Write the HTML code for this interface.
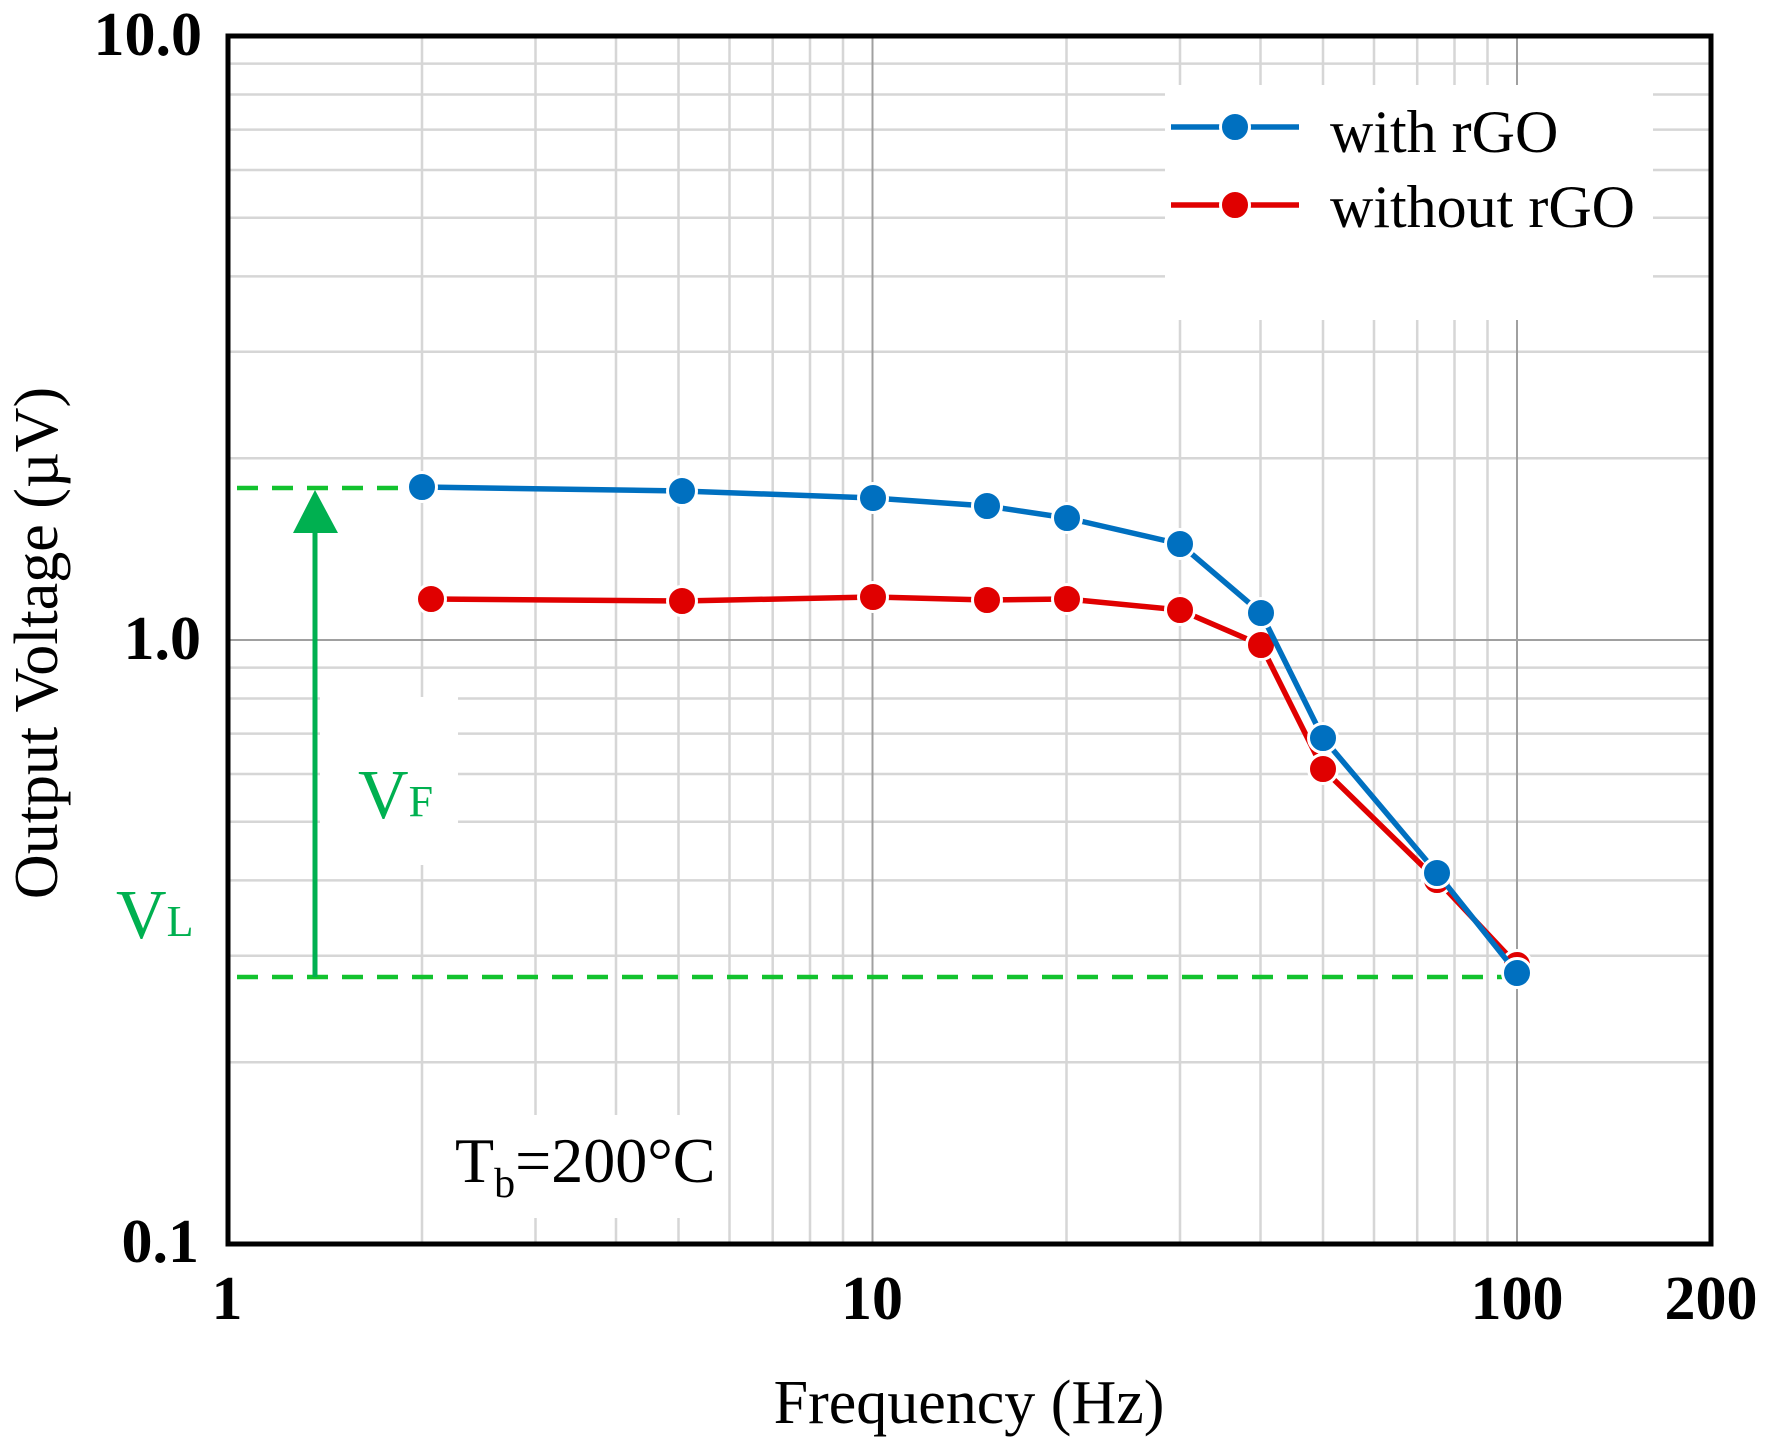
<!DOCTYPE html>
<html><head><meta charset="utf-8"><style>
html,body{margin:0;padding:0;background:#fff;}
svg{display:block;}
text{font-family:"Liberation Serif","Times New Roman",serif;fill:#000;}
</style></head><body>
<svg width="1771" height="1450" viewBox="0 0 1771 1450" xmlns="http://www.w3.org/2000/svg">
<rect width="1771" height="1450" fill="#fff"/>
<!-- minor vertical gridlines -->
<g stroke="#d6d6d6" stroke-width="2.5">
<line x1="422" y1="36" x2="422" y2="1244"/>
<line x1="535.5" y1="36" x2="535.5" y2="1244"/>
<line x1="616" y1="36" x2="616" y2="1244"/>
<line x1="678.5" y1="36" x2="678.5" y2="1244"/>
<line x1="729.5" y1="36" x2="729.5" y2="1244"/>
<line x1="772.7" y1="36" x2="772.7" y2="1244"/>
<line x1="810" y1="36" x2="810" y2="1244"/>
<line x1="843" y1="36" x2="843" y2="1244"/>
<line x1="1066.5" y1="36" x2="1066.5" y2="1244"/>
<line x1="1180" y1="36" x2="1180" y2="1244"/>
<line x1="1260.5" y1="36" x2="1260.5" y2="1244"/>
<line x1="1323" y1="36" x2="1323" y2="1244"/>
<line x1="1374" y1="36" x2="1374" y2="1244"/>
<line x1="1417.2" y1="36" x2="1417.2" y2="1244"/>
<line x1="1454.5" y1="36" x2="1454.5" y2="1244"/>
<line x1="1487.5" y1="36" x2="1487.5" y2="1244"/>
</g>
<!-- minor horizontal gridlines -->
<g stroke="#d6d6d6" stroke-width="2.5">
<line x1="228" y1="1062.2" x2="1711" y2="1062.2"/>
<line x1="228" y1="955.8" x2="1711" y2="955.8"/>
<line x1="228" y1="880.4" x2="1711" y2="880.4"/>
<line x1="228" y1="821.8" x2="1711" y2="821.8"/>
<line x1="228" y1="774" x2="1711" y2="774"/>
<line x1="228" y1="733.6" x2="1711" y2="733.6"/>
<line x1="228" y1="698.5" x2="1711" y2="698.5"/>
<line x1="228" y1="667.6" x2="1711" y2="667.6"/>
<line x1="228" y1="458.2" x2="1711" y2="458.2"/>
<line x1="228" y1="351.8" x2="1711" y2="351.8"/>
<line x1="228" y1="276.4" x2="1711" y2="276.4"/>
<line x1="228" y1="217.8" x2="1711" y2="217.8"/>
<line x1="228" y1="170" x2="1711" y2="170"/>
<line x1="228" y1="129.6" x2="1711" y2="129.6"/>
<line x1="228" y1="94.5" x2="1711" y2="94.5"/>
<line x1="228" y1="63.6" x2="1711" y2="63.6"/>
</g>
<!-- major gridlines -->
<g stroke="#a0a0a0" stroke-width="2">
<line x1="872.5" y1="36" x2="872.5" y2="1244"/>
<line x1="1517" y1="36" x2="1517" y2="1244"/>
<line x1="228" y1="640" x2="1711" y2="640"/>
</g>
<!-- white label boxes -->
<rect x="1165" y="85" width="488" height="235" fill="#fff"/>
<rect x="320" y="697" width="138" height="168" fill="#fff"/>
<rect x="430" y="1115" width="290" height="103" fill="#fff"/>
<!-- plot border -->
<rect x="228" y="36" width="1483" height="1208" fill="none" stroke="#000" stroke-width="5"/>
<!-- green dashed reference lines -->
<g stroke="#12c22e" stroke-width="4.5" stroke-dasharray="21 14" fill="none">
<line x1="237" y1="488" x2="408" y2="488"/>
<line x1="237" y1="977" x2="1503" y2="977"/>
</g>
<!-- arrow -->
<line x1="315" y1="977" x2="315" y2="528" stroke="#00b050" stroke-width="5"/>
<polygon points="315,490 293,533 338,533" fill="#00b050"/>
<!-- red series -->
<polyline fill="none" stroke="#e00000" stroke-width="5.5" stroke-linejoin="round" points="431,599 682,601 873,597 987,600 1067,599 1180,610 1261,645 1323,769 1437,880 1517,965"/>
<g fill="#e00000" stroke="#fff" stroke-width="3">
<circle cx="431" cy="599" r="14.5"/><circle cx="682" cy="601" r="14.5"/><circle cx="873" cy="597" r="14.5"/>
<circle cx="987" cy="600" r="14.5"/><circle cx="1067" cy="599" r="14.5"/><circle cx="1180" cy="610" r="14.5"/>
<circle cx="1261" cy="645" r="14.5"/><circle cx="1323" cy="769" r="14.5"/><circle cx="1437" cy="880" r="14.5"/>
<circle cx="1517" cy="965" r="14.5"/>
</g>
<!-- blue series -->
<polyline fill="none" stroke="#0070c0" stroke-width="5.5" stroke-linejoin="round" points="422,487 682,491 873,498 987,506 1067,518 1180,544 1261,613 1323,738 1437,873 1517,973"/>
<g fill="#0070c0" stroke="#fff" stroke-width="3">
<circle cx="422" cy="487" r="14.5"/><circle cx="682" cy="491" r="14.5"/><circle cx="873" cy="498" r="14.5"/>
<circle cx="987" cy="506" r="14.5"/><circle cx="1067" cy="518" r="14.5"/><circle cx="1180" cy="544" r="14.5"/>
<circle cx="1261" cy="613" r="14.5"/><circle cx="1323" cy="738" r="14.5"/><circle cx="1437" cy="873" r="14.5"/>
<circle cx="1517" cy="973" r="14.5"/>
</g>
<!-- legend -->
<line x1="1171" y1="127" x2="1299" y2="127" stroke="#0070c0" stroke-width="5.5"/>
<circle cx="1235" cy="127" r="14.5" fill="#0070c0" stroke="#fff" stroke-width="3"/>
<text x="1330" y="152" font-size="60">with rGO</text>
<line x1="1171" y1="205" x2="1299" y2="205" stroke="#e00000" stroke-width="5.5"/>
<circle cx="1235" cy="205" r="14.5" fill="#e00000" stroke="#fff" stroke-width="3"/>
<text x="1330" y="227" font-size="60">without rGO</text>
<!-- y tick labels -->
<g font-size="62" font-weight="bold" text-anchor="end">
<text x="202" y="55">10.0</text>
<text x="201" y="659">1.0</text>
<text x="199" y="1262">0.1</text>
</g>
<!-- x tick labels -->
<g font-size="62" font-weight="bold" text-anchor="middle">
<text x="227" y="1319">1</text>
<text x="872" y="1319">10</text>
<text x="1517" y="1319">100</text>
<text x="1711" y="1319">200</text>
</g>
<!-- axis titles -->
<text x="969" y="1423" font-size="62" text-anchor="middle">Frequency (Hz)</text>
<text transform="translate(57,643) rotate(-90)" font-size="62" text-anchor="middle">Output Voltage (µV)</text>
<!-- annotations -->
<text x="358" y="818" font-size="70" style="fill:#00b050">V<tspan font-size="44" dy="-2">F</tspan></text>
<text x="116" y="938" font-size="70" style="fill:#00b050">V<tspan font-size="44" dy="-2">L</tspan></text>
<text x="455" y="1182" font-size="64">T<tspan font-size="42" dy="15">b</tspan><tspan font-size="64" dy="-15">=200°C</tspan></text>
</svg>
</body></html>
